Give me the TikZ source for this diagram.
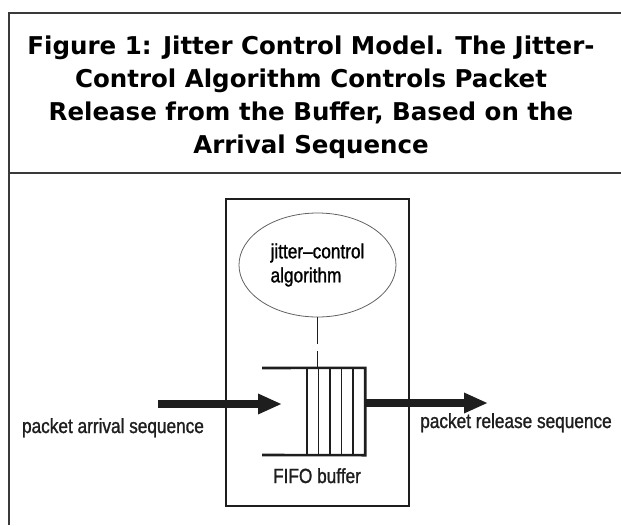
\documentclass[tikz,border=0pt]{standalone}
\usepackage{fontspec}
\usetikzlibrary{shapes.geometric,arrows.meta}
\newfontfamily\titlefont{DejaVu Sans}
\newfontfamily\labelfont[FakeStretch=0.84,FakeBold=1.2]{Liberation Sans}
\definecolor{ink}{HTML}{1E1E1E}
\definecolor{rule}{HTML}{3A3A3A}
\tikzset{
  frameline/.style={draw=rule, line width=1.4pt},
  titletext/.style={font=\titlefont\bfseries\fontsize{24.5}{33}\selectfont, align=center, text=black, inner sep=0},
  unitbox/.style={draw=ink, line width=2.6pt, inner sep=0, minimum width=183pt, minimum height=307pt},
  algobox/.style={ellipse, draw=ink!70, line width=0.8pt, inner sep=0, minimum width=157pt, minimum height=104pt,
    align=left, font=\labelfont\fontsize{20.5}{24}\selectfont},
  label/.style={font=\labelfont\fontsize{20.5}{22}\selectfont, text=ink, inner sep=0},
  bufwall/.style={draw=ink, line width=2.6pt},
  slat/.style={draw=ink, line width=1.3pt},
  flow/.style={draw=ink, line width=8pt, -{Triangle[length=24pt,width=19pt]}},
  ctrl/.style={draw=ink, line width=1.6pt, dash pattern=on 27pt off 7pt},
}
\begin{document}
\begin{tikzpicture}[x=1pt,y=-1pt]
  \useasboundingbox (0,0) rectangle (621,525);

  % caption frame
  \draw[frameline] (621,13) -- (9,13) -- (9,525);
  \draw[frameline] (9,173) -- (621,173);
  \node[titletext] (title) at (311,97)
    {Figure 1: Jitter Control Model. The Jitter-\\
     Control Algorithm Controls Packet\\
     Release from the Buffer, Based on the\\
     Arrival Sequence};

  % the jitter-control unit
  \node[unitbox] (unit) at (317.5,352.5) {};
  \node[algobox] (algo) at (317.5,265) {jitter–control\\algorithm};

  % FIFO buffer with its slots
  \node[inner sep=0, minimum width=58pt, minimum height=87pt] (buf) at (336,411.5) {};
  \coordinate (mouthTop) at (262,368);
  \coordinate (mouthBot) at (262,455);
  \draw[bufwall] (mouthTop) -- (buf.north east) -- (buf.south east) -- (mouthBot);
  \foreach \sx in {307,318.5,330,341.5,353}
    \draw[slat] (\sx,368) -- (\sx,455);
  \node[label, anchor=base] (fifo) at (317,483) {FIFO buffer};

  % control link from algorithm to buffer
  \draw[ctrl] (algo.south) -- (algo.south |- buf.north);

  % packet flow in and out
  \coordinate (inStart) at (158,404);
  \coordinate (inTip) at (282,404);
  \coordinate (outTip) at (488,403);
  \draw[flow] (inStart) -- (inTip);
  \draw[flow] (buf.east |- outTip) -- (outTip);

  \node[label, anchor=base] (arrival) at (113,433) {packet arrival sequence};
  \node[label, anchor=base] (release) at (516,428) {packet release sequence};
\end{tikzpicture}
\end{document}
